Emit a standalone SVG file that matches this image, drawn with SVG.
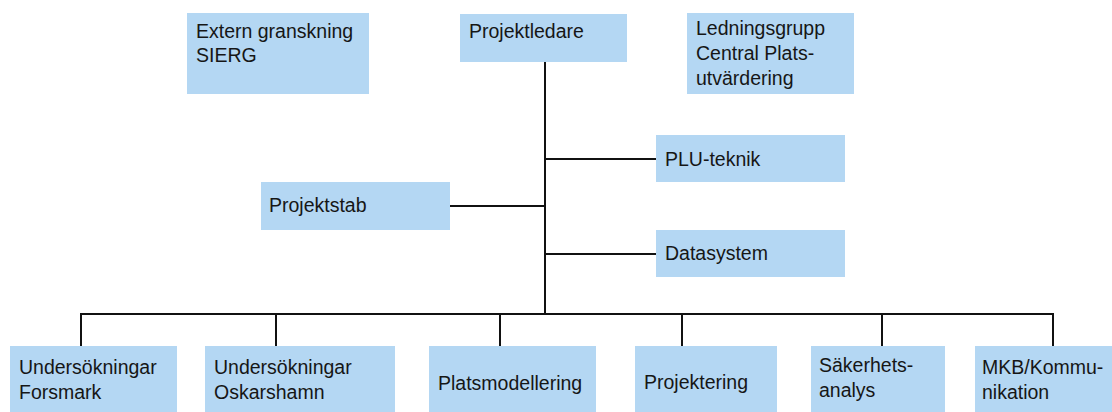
<svg xmlns="http://www.w3.org/2000/svg" width="1112" height="412" viewBox="0 0 1112 412">
<style>
.box{fill:#b4d7f3;}
.t{font-family:"Liberation Sans",Arial,Helvetica,sans-serif;font-size:19.5px;fill:#161616;}
.c{stroke:#111;stroke-width:2;fill:none;}
</style>
<rect width="1112" height="412" fill="#fff"/>
<g id="connectors">
<line class="c" x1="545" y1="62" x2="545" y2="315"/>
<line class="c" x1="80" y1="314" x2="1054" y2="314"/>
<line class="c" x1="81" y1="314" x2="81" y2="346"/>
<line class="c" x1="276" y1="314" x2="276" y2="346"/>
<line class="c" x1="500" y1="314" x2="500" y2="346"/>
<line class="c" x1="682" y1="314" x2="682" y2="346"/>
<line class="c" x1="882" y1="314" x2="882" y2="346"/>
<line class="c" x1="1053" y1="314" x2="1053" y2="346"/>
<line class="c" x1="545" y1="159" x2="656" y2="159"/>
<line class="c" x1="450" y1="206" x2="545" y2="206"/>
<line class="c" x1="545" y1="254" x2="656" y2="254"/>
</g>
<g id="extern"><rect class="box" x="187" y="13" width="182" height="81"/><text class="t" x="196" y="38">Extern granskning</text><text class="t" x="196" y="62">SIERG</text></g>
<g id="projektledare"><rect class="box" x="460" y="14" width="167" height="48"/><text class="t" x="469" y="38">Projektledare</text></g>
<g id="ledningsgrupp"><rect class="box" x="687" y="13" width="167" height="81"/><text class="t" x="696" y="35">Ledningsgrupp</text><text class="t" x="696" y="60">Central Plats-</text><text class="t" x="696" y="85">utvärdering</text></g>
<g id="plu"><rect class="box" x="656" y="135" width="189" height="47"/><text class="t" x="665" y="166">PLU-teknik</text></g>
<g id="projektstab"><rect class="box" x="261" y="182" width="189" height="48"/><text class="t" x="269" y="212">Projektstab</text></g>
<g id="datasystem"><rect class="box" x="656" y="230" width="189" height="47"/><text class="t" x="665" y="260">Datasystem</text></g>
<g id="forsmark"><rect class="box" x="10" y="346" width="167" height="66"/><text class="t" x="19" y="374">Undersökningar</text><text class="t" x="19" y="399">Forsmark</text></g>
<g id="oskarshamn"><rect class="box" x="205" y="346" width="190" height="66"/><text class="t" x="214" y="374">Undersökningar</text><text class="t" x="214" y="399">Oskarshamn</text></g>
<g id="platsmodellering"><rect class="box" x="429" y="346" width="167" height="66"/><text class="t" x="438" y="390">Platsmodellering</text></g>
<g id="projektering"><rect class="box" x="635" y="346" width="142" height="66"/><text class="t" x="644" y="389">Projektering</text></g>
<g id="sakerhetsanalys"><rect class="box" x="811" y="346" width="134" height="66"/><text class="t" x="819" y="372">Säkerhets-</text><text class="t" x="819" y="397">analys</text></g>
<g id="mkb"><rect class="box" x="975" y="346" width="137" height="66"/><text class="t" x="982" y="374">MKB/Kommu-</text><text class="t" x="982" y="399">nikation</text></g>
</svg>
